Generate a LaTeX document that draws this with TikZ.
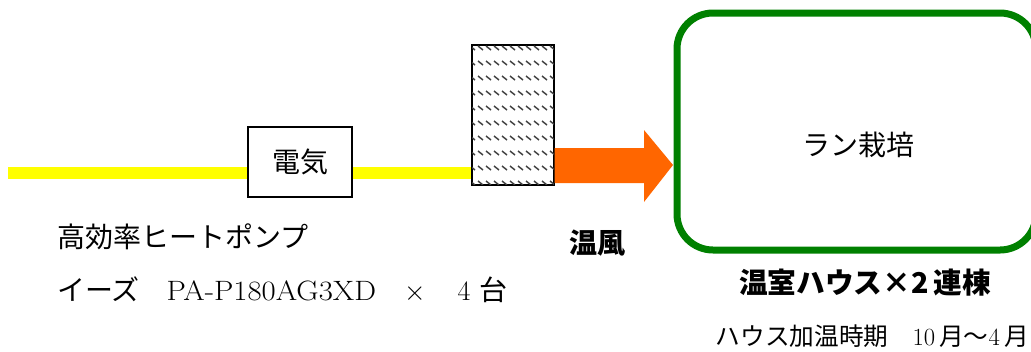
\documentclass[tikz,border=0pt]{standalone}
\usepackage{fontspec}
\newfontfamily\jp{Noto Sans CJK JP}

\definecolor{powerline}{HTML}{FFFF00}
\definecolor{warmair}{HTML}{FF6600}
\definecolor{housegreen}{HTML}{008000}

\newcommand{\wide}[1]{\scalebox{1.1}[1]{#1}}

\begin{document}
\begin{tikzpicture}[x=0.75pt, y=-0.75pt,
    txt/.style={inner sep=0pt, font=\fontsize{21}{25}\selectfont},
    small/.style={inner sep=0pt, font=\fontsize{18.5}{22}\selectfont},
    box/.style={draw, thick, fill=white, inner sep=0pt}]

\useasboundingbox (0,0) rectangle (1031,351);

% Electricity supply line
\coordinate (src) at (8,173);
\coordinate (dst) at (472,173);
\draw[powerline, line width=9pt] (src) -- (dst);

% Electricity box
\node[box, minimum width=78pt, minimum height=52.5pt, txt] (elec) at (300,162) {\jp 電気};

% Heat pump unit (hatched)
\node[box, minimum width=61.5pt, minimum height=105pt] (hp) at (513,115) {};
\begin{scope}
    \clip (hp.south west) rectangle (hp.north east);
    \foreach \r in {0,...,9}
        \foreach \c in {0,...,10}
            \draw[black!75, line width=1.1pt] (470+8*\c, 46+15*\r) -- ++(5,4);
\end{scope}
\draw[thick] (hp.south west) rectangle (hp.north east);

% Warm air arrow
\fill[warmair] (hp.east |- 0,148) -- (644,148) -- (644,130) -- (673,165)
    -- (644,202) -- (644,183) -- (hp.east |- 0,183) -- cycle;
\node[txt, font=\fontsize{21}{25}\selectfont\jp\bfseries] (air) at (597,243) {温風};

% Greenhouse
\draw[housegreen, line width=5.25pt, rounded corners=27pt] (677,13) rectangle (1036,250);
\node[txt] (crop) at (858,145) {\jp ラン栽培};
\node[txt, font=\fontsize{21.5}{25}\selectfont\jp\bfseries] (house) at (865,283) {温室ハウス×2\,連棟};
\node[small, anchor=east] (period) at (1029,336)
    {{\jp ハウス加温時期}\hspace{18pt}10\,{\jp 月〜}4\,{\jp 月}};

% Heat pump labels
\node[txt, anchor=west] (name) at (57,237) {\jp 高効率ヒートポンプ};
\node[txt, anchor=west] (model) at (57,290)
    {{\jp イーズ}\hspace{20pt}\wide{PA-P180AG3XD}\hspace{21pt}$\times$\hspace{24pt}4\hspace{7pt}{\jp 台}};

\end{tikzpicture}
\end{document}
